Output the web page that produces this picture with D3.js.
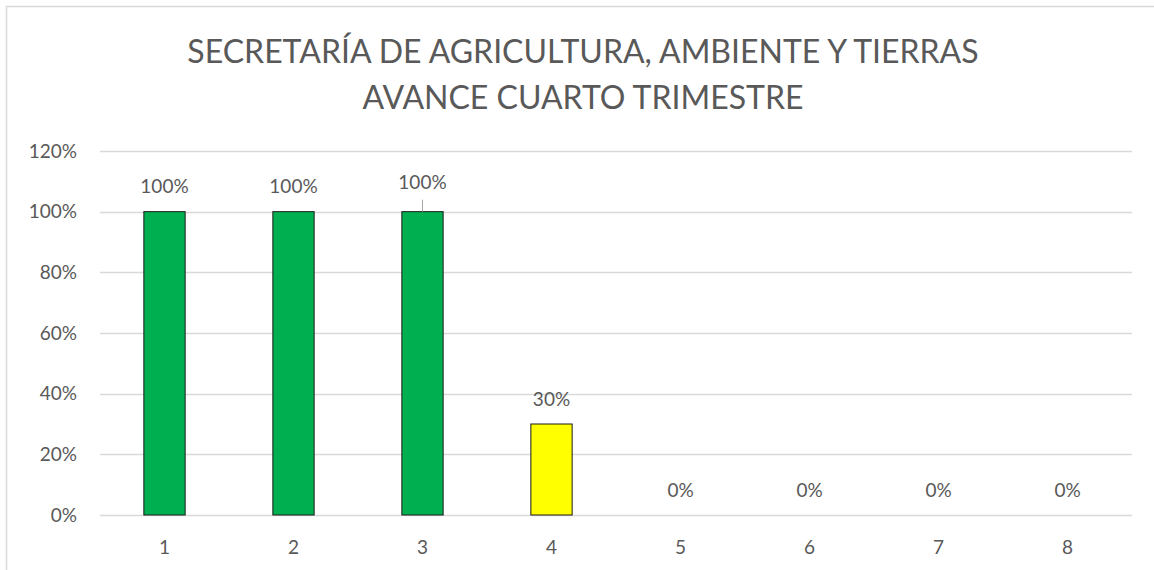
<!DOCTYPE html>
<html>
<head>
<meta charset="utf-8">
<script src="https://cdn.jsdelivr.net/npm/d3@7"></script>
<style>
  body { margin: 0; background: #fff; }
  text { font-family: Lato, "Open Sans", sans-serif; fill: #595959; }
</style>
</head>
<body>
<div id="chart"></div>
<script>
var title_lines = ["SECRETARÍA DE AGRICULTURA, AMBIENTE Y TIERRAS", "AVANCE CUARTO TRIMESTRE"];
var categories = ["1", "2", "3", "4", "5", "6", "7", "8"];
var values = [1, 1, 1, 0.3, 0, 0, 0, 0];
var bar_colors = ["#00b050", "#00b050", "#00b050", "#ffff00", "#00b050", "#00b050", "#00b050", "#00b050"];
var y_ticks = [0, 0.2, 0.4, 0.6, 0.8, 1, 1.2];

var width = 1154, height = 570;
var margin = {top: 151, right: 22, bottom: 55, left: 100};

var data = categories.map(function(c, i){
    return {cat: c, value: values[i], color: bar_colors[i], leader: (i == 2)};
});

var svg = d3.select('#chart')
            .append('svg')
            .attr('width', width)
            .attr('height', height);

// chart frame
svg.append('rect')
    .attr('x', 6.5).attr('y', 6.5)
    .attr('width', 1160).attr('height', 600)
    .style('fill', 'none')
    .style('stroke', '#d9d9d9')
    .style('stroke-width', 1.5);

var x = d3.scaleBand().domain(categories).range([margin.left, width - margin.right]).paddingInner(0.68).paddingOuter(0.34);
var y = d3.scaleLinear().domain([0, 1.2]).range([height - margin.bottom, margin.top]);

// gridlines
svg.append('g').selectAll('line')
    .data(y_ticks)
    .enter()
    .append('line')
    .attr('x1', margin.left)
    .attr('x2', width - margin.right)
    .attr('y1', d => Math.round(y(d)) + 0.5)
    .attr('y2', d => Math.round(y(d)) + 0.5)
    .style('stroke', '#d9d9d9')
    .style('stroke-width', 1.5);

// y labels
svg.append('g').selectAll('text')
    .data(y_ticks)
    .enter()
    .append('text')
    .attr('x', 77)
    .attr('y', d => y(d))
    .attr('dy', '0.35em')
    .attr('text-anchor', 'end')
    .style('font-size', '19px')
    .text(d => Math.round(d * 100) + '%');

// x labels
svg.append('g').selectAll('text')
    .data(categories)
    .enter()
    .append('text')
    .attr('x', d => x(d) + x.bandwidth() / 2)
    .attr('y', y(0) + 32)
    .attr('dy', '0.35em')
    .attr('text-anchor', 'middle')
    .style('font-size', '19px')
    .text(d => d);

// bars
svg.append('g').selectAll('rect')
    .data(data.filter(d => d.value > 0))
    .enter()
    .append('rect')
    .attr('x', d => x(d.cat))
    .attr('y', d => y(d.value))
    .attr('width', x.bandwidth())
    .attr('height', d => y(0) - y(d.value))
    .style('fill', d => d.color)
    .style('stroke', '#1a1a1a')
    .style('stroke-width', 1);

// leader line for the label that was dragged up (bar 3)
svg.append('g').selectAll('line')
    .data(data.filter(d => d.leader))
    .enter()
    .append('line')
    .attr('x1', d => x(d.cat) + x.bandwidth() / 2)
    .attr('x2', d => x(d.cat) + x.bandwidth() / 2)
    .attr('y1', d => y(d.value))
    .attr('y2', d => y(d.value) - 12)
    .style('stroke', '#a6a6a6')
    .style('stroke-width', 1);

svg.append('g').selectAll('text')
    .data(data)
    .enter()
    .append('text')
    .attr('x', d => x(d.cat) + x.bandwidth() / 2)
    .attr('y', d => y(d.value) - 25 - (d.leader ? 4 : 0))
    .attr('dy', '0.35em')
    .attr('text-anchor', 'middle')
    .style('font-size', '19px')
    .text(d => Math.round(d.value * 100) + '%');

// title
svg.append('g').selectAll('text')
    .data(title_lines)
    .enter()
    .append('text')
    .attr('x', 583)
    .attr('y', (d, i) => 52 + i * 46)
    .attr('dy', '0.35em')
    .attr('text-anchor', 'middle')
    .style('font-size', '32px')
    .text(d => d);
</script>
</body>
</html>
